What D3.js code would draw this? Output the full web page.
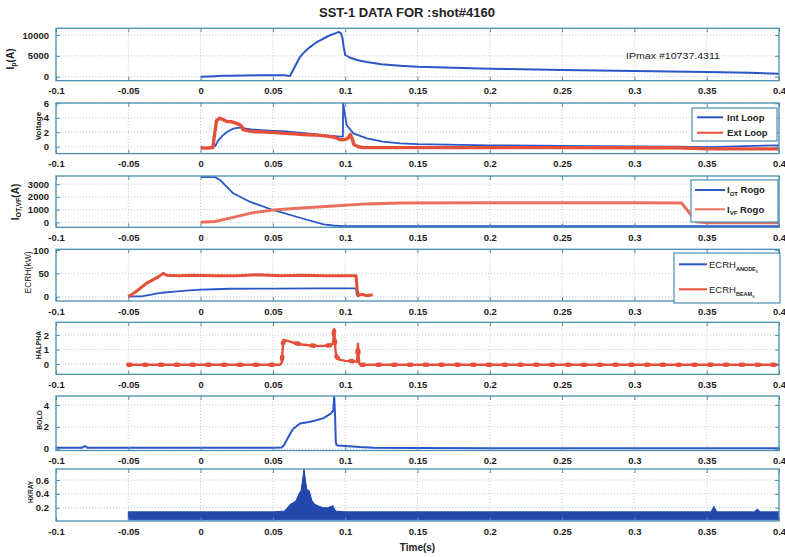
<!DOCTYPE html>
<html>
<head>
<meta charset="utf-8">
<script src="https://cdn.jsdelivr.net/npm/d3@7"></script>
<style>
  body { margin: 0; background: #fff; }
  svg { display: block; font-family: Arial, "Liberation Sans", sans-serif; }
</style>
</head>
<body>
<svg id="chart" width="785" height="557"></svg>
<script>
const timeTicks = [-0.1, -0.05, 0, 0.05, 0.1, 0.15, 0.2, 0.25, 0.3, 0.35, 0.4];
const timeTickLabels = ["-0.1", "-0.05", "0", "0.05", "0.1", "0.15", "0.2", "0.25", "0.3", "0.35", "0.4"];

// plasma current Ip (A)
const ipTime = [0, 0.005, 0.01, 0.015, 0.02, 0.03, 0.04, 0.05, 0.058, 0.0605, 0.0618, 0.064, 0.0665, 0.0687, 0.072, 0.0756, 0.08, 0.085, 0.09, 0.0935, 0.0955, 0.097, 0.098, 0.099, 0.1, 0.103, 0.108, 0.115, 0.125, 0.138, 0.15, 0.2, 0.25, 0.3, 0.35, 0.38, 0.4];
const ipVal = [0, 60, 130, 200, 250, 300, 320, 330, 320, 200, 150, 1600, 3300, 4700, 6000, 7100, 8200, 9150, 10000, 10450, 10737, 10400, 9500, 7000, 5200, 4600, 4000, 3500, 3000, 2650, 2400, 1900, 1600, 1350, 1100, 950, 700];

// loop voltage (V)
const intLoopTime = [0.0099, 0.012, 0.015, 0.018, 0.0226, 0.027, 0.035, 0.05, 0.06, 0.07, 0.08, 0.09, 0.097, 0.0984, 0.0986, 0.101, 0.1056, 0.115, 0.126, 0.138, 0.15, 0.2, 0.25, 0.3, 0.33, 0.35, 0.37, 0.4];
const intLoopVal = [0, 0.8, 1.5, 2.0, 2.5, 2.65, 2.4, 2.2, 2.1, 1.9, 1.7, 1.5, 1.4, 1.4, 6.0, 3.0, 1.84, 1.16, 0.7, 0.47, 0.35, 0.2, 0.1, 0.05, 0.0, -0.05, 0.05, 0.2];
const extLoopTime = [0, 0.004, 0.0085, 0.0095, 0.011, 0.013, 0.016, 0.018, 0.021, 0.024, 0.027, 0.0285, 0.0295, 0.033, 0.037, 0.041, 0.046, 0.052, 0.058, 0.064, 0.0687, 0.074, 0.08, 0.086, 0.0917, 0.095, 0.097, 0.1, 0.102, 0.1035, 0.1045, 0.106, 0.109, 0.112, 0.15, 0.2, 0.25, 0.3, 0.33, 0.35, 0.37, 0.4];
const extLoopVal = [-0.15, -0.2, -0.1, 1.5, 3.6, 3.95, 3.7, 3.5, 3.45, 3.3, 3.05, 2.8, 2.35, 2.2, 2.05, 2.1, 2.0, 1.95, 1.85, 1.8, 1.7, 1.65, 1.6, 1.5, 1.35, 1.1, 0.95, 1.0, 1.2, 1.7, 1.3, 0.3, 0.0, -0.1, -0.12, -0.12, -0.12, -0.15, -0.15, -0.3, -0.3, -0.3];

// OT and VF rogowski currents (A)
const iotTime = [0, 0.01, 0.0134, 0.0225, 0.034, 0.05, 0.0687, 0.085, 0.0917, 0.098, 0.11, 0.2, 0.3, 0.4];
const iotVal = [3550, 3550, 3330, 2280, 1620, 970, 360, -160, -250, -300, -300, -300, -300, -300];
const ivfTime = [0, 0.01, 0.0225, 0.0364, 0.05, 0.07, 0.092, 0.115, 0.138, 0.2, 0.25, 0.3, 0.3326, 0.343, 0.35, 0.4];
const ivfVal = [0, 60, 390, 760, 960, 1130, 1280, 1450, 1520, 1540, 1540, 1530, 1520, 50, -40, -40];

// ECRH power (kW)
const anodeTime = [-0.05, -0.045, -0.04, -0.035, -0.03, -0.025, -0.02, -0.01, 0, 0.01, 0.02, 0.05, 0.08, 0.1, 0.1075, 0.108, 0.109];
const anodeVal = [0, 0.5, 1, 4, 7, 9, 10.5, 13, 15, 16, 17, 17.5, 18, 18, 18, 5, 0];
const beamTime = [-0.05, -0.045, -0.0373, -0.033, -0.029, -0.0259, -0.0235, -0.015, -0.005, 0.01, 0.025, 0.04, 0.055, 0.07, 0.085, 0.1, 0.1075, 0.1083, 0.109, 0.112, 0.115, 0.119];
const beamVal = [0, 10, 29, 36, 43, 50, 46, 45, 46, 45, 45, 47, 45, 46, 45, 45, 45, 15, 3, 5, 2, 4];

// H-alpha
const halphaTime = [-0.05, 0.055, 0.0562, 0.057, 0.058, 0.06, 0.065, 0.07, 0.075, 0.08, 0.085, 0.09, 0.0915, 0.0924, 0.0932, 0.094, 0.096, 0.1, 0.105, 0.1082, 0.1088, 0.1093, 0.1098, 0.111, 0.4];
const halphaVal = [-0.05, -0.05, 0.1, 1.45, 1.65, 1.6, 1.45, 1.35, 1.3, 1.25, 1.25, 1.3, 1.4, 2.4, 1.0, 0.5, 0.3, 0.22, 0.2, 0.15, 1.4, 0.5, 0.0, -0.05, -0.05];

// bolometer
const boloTime = [-0.1, -0.09, -0.082, -0.08, -0.078, -0.07, -0.05, -0.03, 0, 0.03, 0.05, 0.056, 0.0575, 0.06, 0.062, 0.064, 0.0687, 0.075, 0.08, 0.085, 0.09, 0.0918, 0.0924, 0.093, 0.0935, 0.094, 0.095, 0.1, 0.105, 0.11, 0.12, 0.15, 0.2, 0.3, 0.4];
const boloVal = [0.08, 0.08, 0.1, 0.25, 0.08, 0.08, 0.1, 0.08, 0.1, 0.1, 0.1, 0.12, 0.3, 0.9, 1.4, 1.8, 2.3, 2.45, 2.6, 2.8, 3.2, 3.5, 4.85, 3.0, 0.6, 0.35, 0.3, 0.25, 0.2, 0.15, 0.1, 0.06, 0.05, 0.05, 0.05];

// hard x-ray envelope
const hxTime = [-0.05, 0.0, 0.05, 0.058, 0.06, 0.062, 0.064, 0.066, 0.068, 0.0695, 0.0705, 0.0715, 0.0725, 0.0735, 0.075, 0.077, 0.079, 0.082, 0.085, 0.088, 0.0915, 0.0925, 0.094, 0.1, 0.2, 0.3, 0.353, 0.355, 0.357, 0.383, 0.385, 0.387, 0.4];
const hxHi = [0.14, 0.14, 0.14, 0.15, 0.2, 0.25, 0.27, 0.3, 0.4, 0.45, 0.6, 0.76, 0.6, 0.46, 0.45, 0.3, 0.25, 0.22, 0.2, 0.2, 0.23, 0.18, 0.15, 0.14, 0.14, 0.14, 0.14, 0.22, 0.14, 0.14, 0.18, 0.14, 0.14];
const hxLo = 0.025;

const ipTicks = [0, 5000, 10000];
const voltTicks = [0, 2, 4, 6];
const rogoTicks = [0, 1000, 2000, 3000];
const ecrhTicks = [0, 50, 100];
const halphaTicks = [0, 1, 2];
const boloTicks = [0, 2, 4];
const hxTicks = [0.2, 0.4, 0.6];

// ---- Styling ----
const BLUE = "#2a56c8";
const RED = "#e5503a";
const FRAME = "#4a8fb2";
const GRID = "#a9c3d6";

const svg = d3.select("#chart");
const x = d3.scaleLinear().domain([-0.1, 0.4]).range([56, 779]);

svg.append("text")
  .attr("x", 407).attr("y", 16.5)
  .attr("text-anchor", "middle")
  .attr("font-size", 13).attr("font-weight", "bold")
  .attr("fill", "#222")
  .text("SST-1 DATA FOR :shot#4160");

// one panel = one matlab axes
function drawPanel(p, idx) {
  const y = d3.scaleLinear().domain(p.domain).range([p.bottom, p.top]);
  const g = svg.append("g");

  g.append("clipPath").attr("id", "clip" + idx)
    .append("rect")
    .attr("x", x.range()[0]).attr("y", p.top)
    .attr("width", x.range()[1] - x.range()[0]).attr("height", p.bottom - p.top);

  // dotted grid
  g.selectAll(".vg").data(timeTicks).join("line")
    .attr("x1", d => x(d)).attr("x2", d => x(d))
    .attr("y1", p.top).attr("y2", p.bottom)
    .attr("stroke", GRID).attr("stroke-width", 0.8).attr("stroke-dasharray", "1,2");
  g.selectAll(".hg").data(p.ticks).join("line")
    .attr("x1", x.range()[0]).attr("x2", x.range()[1])
    .attr("y1", d => y(d)).attr("y2", d => y(d))
    .attr("stroke", GRID).attr("stroke-width", 0.8).attr("stroke-dasharray", "1,2");

  const plot = g.append("g").attr("clip-path", `url(#clip${idx})`);
  p.draw(plot, y);

  // frame
  g.append("rect")
    .attr("x", x.range()[0]).attr("y", p.top)
    .attr("width", x.range()[1] - x.range()[0]).attr("height", p.bottom - p.top)
    .attr("fill", "none").attr("stroke", FRAME).attr("stroke-width", 1.3);

  // inward ticks on all four sides
  const xAxisB = d3.axisBottom(x).tickValues(timeTicks).tickSize(-4).tickFormat((d, i) => timeTickLabels[i]).tickPadding(7);
  const ax = g.append("g").attr("transform", `translate(0,${p.bottom})`).call(xAxisB);
  const axT = g.append("g").attr("transform", `translate(0,${p.top})`)
    .call(d3.axisTop(x).tickValues(timeTicks).tickSize(-4).tickFormat(""));
  const ay = g.append("g").attr("transform", `translate(${x.range()[0]},0)`)
    .call(d3.axisLeft(y).tickValues(p.ticks).tickSize(-4).tickPadding(7).tickFormat(d => String(d)));
  const ayR = g.append("g").attr("transform", `translate(${x.range()[1]},0)`)
    .call(d3.axisRight(y).tickValues(p.ticks).tickSize(-4).tickFormat(""));
  [ax, axT, ay, ayR].forEach(a => {
    a.select(".domain").remove();
    a.selectAll(".tick line").attr("stroke", FRAME).attr("stroke-width", 1);
    a.selectAll("text").attr("font-size", 9.5).attr("font-weight", "bold")
      .attr("fill", "#1c1c1c").attr("font-family", "Arial, 'Liberation Sans', sans-serif");
  });

  // rotated y label
  const lab = svg.append("text")
    .attr("transform", `translate(${p.labelX},${p.labelY}) rotate(-90)`)
    .attr("text-anchor", "middle").attr("dominant-baseline", "central")
    .attr("font-size", p.labelSize).attr("font-weight", "bold").attr("fill", "#222");
  p.label(lab);
  return y;
}

function line(plot, y, xs, ys, color, width) {
  const pts = xs.map((t, i) => [t, ys[i]]);
  return plot.append("path")
    .attr("d", d3.line().x(d => x(d[0])).y(d => y(d[1]))(pts))
    .attr("fill", "none").attr("stroke", color).attr("stroke-width", width)
    .attr("stroke-linejoin", "round");
}

function legend(box, items) {
  const lg = svg.append("g");
  lg.append("rect")
    .attr("x", box.x).attr("y", box.y).attr("width", box.w).attr("height", box.h)
    .attr("fill", "#fff").attr("stroke", FRAME).attr("stroke-width", 1.2);
  items.forEach(it => {
    lg.append("line")
      .attr("x1", box.lx1).attr("x2", box.lx2).attr("y1", it.y).attr("y2", it.y)
      .attr("stroke", it.color).attr("stroke-width", 2);
    const t = lg.append("text")
      .attr("x", box.tx).attr("y", it.y + 3.3)
      .attr("font-size", box.size).attr("font-weight", "bold").attr("fill", "#222");
    it.text(t);
  });
}

const panels = [
  {
    top: 28.3, bottom: 80.7, domain: [-960, 11600], ticks: ipTicks,
    labelX: 10, labelY: 59, labelSize: 10,
    label: t => { t.append("tspan").text("I"); t.append("tspan").attr("dy", 3).attr("font-size", 7).text("p"); t.append("tspan").attr("dy", -3).text("(A)"); },
    draw: (g, y) => line(g, y, ipTime, ipVal, BLUE, 2)
  },
  {
    top: 103, bottom: 153.6, domain: [-0.95, 6.04], ticks: voltTicks,
    labelX: 38, labelY: 126, labelSize: 8,
    label: t => t.text("Voltage"),
    draw: (g, y) => { line(g, y, intLoopTime, intLoopVal, BLUE, 1.8); line(g, y, extLoopTime, extLoopVal, RED, 3.4); }
  },
  {
    top: 176, bottom: 227.3, domain: [-390, 3640], ticks: rogoTicks,
    labelX: 15, labelY: 202, labelSize: 10,
    label: t => { t.append("tspan").text("I"); t.append("tspan").attr("dy", 3).attr("font-size", 7).text("OT,VF"); t.append("tspan").attr("dy", -3).text("(A)"); },
    draw: (g, y) => { line(g, y, iotTime, iotVal, BLUE, 1.8); line(g, y, ivfTime, ivfVal, "#e9705c", 3); }
  },
  {
    top: 249.3, bottom: 301, domain: [-9.2, 101.5], ticks: ecrhTicks,
    labelX: 28, labelY: 272.5, labelSize: 8.5,
    label: t => t.attr("font-weight", "normal").text("ECRH(kW)"),
    draw: (g, y) => { line(g, y, anodeTime, anodeVal, BLUE, 1.8); line(g, y, beamTime, beamVal, RED, 3); }
  },
  {
    top: 322.3, bottom: 374.3, domain: [-0.71, 2.88], ticks: halphaTicks,
    labelX: 38, labelY: 345, labelSize: 6.8,
    label: t => t.text("HALPHA"),
    draw: (g, y) => {
      line(g, y, halphaTime, halphaVal, RED, 2.4);
      line(g, y, halphaTime, halphaVal, RED, 4.5).attr("stroke-dasharray", "2.5,13.3").attr("stroke-linecap", "round");
    }
  },
  {
    top: 396, bottom: 450.5, domain: [-0.16, 4.82], ticks: boloTicks,
    labelX: 39, labelY: 420, labelSize: 6.8,
    label: t => t.text("BOLO"),
    draw: (g, y) => line(g, y, boloTime, boloVal, BLUE, 2)
  },
  {
    top: 469, bottom: 521, domain: [0.008, 0.759], ticks: hxTicks,
    labelX: 30, labelY: 492, labelSize: 6.5,
    label: t => t.text("HXRAY"),
    draw: (g, y) => {
      const area = d3.area().x((d, i) => x(hxTime[i])).y0(() => y(hxLo)).y1(d => y(d));
      g.append("path").attr("d", area(hxHi))
        .attr("fill", "#2247ad").attr("stroke", "#2247ad").attr("stroke-width", 1);
    }
  }
];

panels.forEach((p, i) => drawPanel(p, i));

// Ip max annotation
svg.append("text")
  .attr("x", 626).attr("y", 58.5)
  .attr("font-size", 9).attr("fill", "#222")
  .attr("textLength", 94).attr("lengthAdjust", "spacingAndGlyphs")
  .text("IPmax #10737.4311");

// legends
legend({ x: 692, y: 108, w: 85, h: 33, lx1: 697, lx2: 723, tx: 727, size: 9.5 }, [
  { y: 117.3, color: BLUE, text: t => t.text("Int Loop") },
  { y: 132.7, color: RED, text: t => t.text("Ext Loop") }
]);
legend({ x: 691, y: 180, w: 87, h: 42, lx1: 695, lx2: 725, tx: 727, size: 9.5 }, [
  { y: 190, color: BLUE, text: t => { t.append("tspan").text("I"); t.append("tspan").attr("dy", 2.5).attr("font-size", 6).text("OT"); t.append("tspan").attr("dy", -2.5).text(" Rogo"); } },
  { y: 209.3, color: "#e9705c", text: t => { t.append("tspan").text("I"); t.append("tspan").attr("dy", 2.5).attr("font-size", 6).text("VF"); t.append("tspan").attr("dy", -2.5).text(" Rogo"); } }
]);
legend({ x: 674, y: 253, w: 106, h: 50, lx1: 679, lx2: 707, tx: 709, size: 9.5 }, [
  { y: 264.3, color: BLUE, text: t => { t.attr("font-weight", "normal"); t.append("tspan").text("ECRH"); t.append("tspan").attr("dy", 3).attr("font-size", 5.5).attr("font-weight", "bold").text("ANODE"); t.append("tspan").attr("dy", 2).attr("font-size", 4.5).text("s"); } },
  { y: 289.3, color: RED, text: t => { t.attr("font-weight", "normal"); t.append("tspan").text("ECRH"); t.append("tspan").attr("dy", 3).attr("font-size", 5.5).attr("font-weight", "bold").text("BEAM"); t.append("tspan").attr("dy", 2).attr("font-size", 4.5).text("s"); } }
]);

svg.append("text")
  .attr("x", 417.5).attr("y", 551)
  .attr("text-anchor", "middle")
  .attr("font-size", 10).attr("font-weight", "bold").attr("fill", "#222")
  .text("Time(s)");
</script>
</body>
</html>
